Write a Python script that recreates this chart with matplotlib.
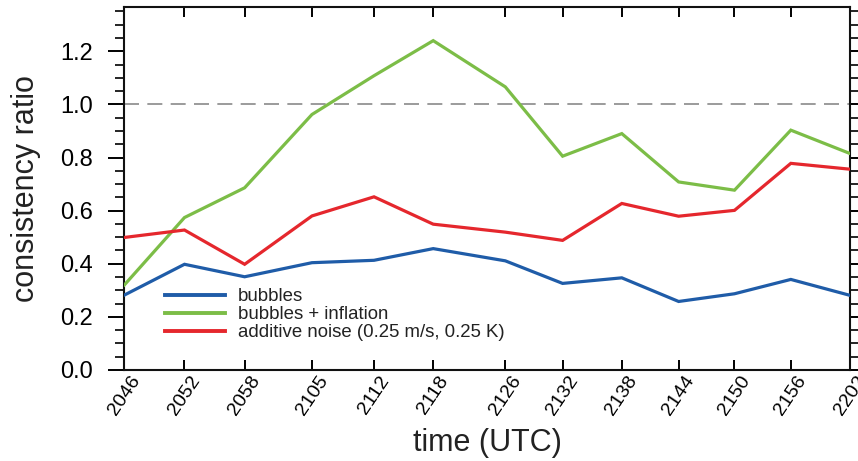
import matplotlib
matplotlib.use("Agg")
import matplotlib.pyplot as plt
from matplotlib.ticker import MultipleLocator

plt.rcParams['font.family'] = ['Liberation Sans', 'DejaVu Sans']

# Analysis times (minutes after 20:46 UTC) and their labels
minutes = [0.0, 6.3, 12.6, 19.65, 26.15, 32.35, 39.9, 45.9, 52.1, 58.05, 63.9, 69.8, 76.0]
time_labels = ["2046", "2052", "2058", "2105", "2112", "2118", "2126",
               "2132", "2138", "2144", "2150", "2156", "2202"]

bubbles = [0.282, 0.398, 0.351, 0.404, 0.413, 0.457, 0.411,
           0.326, 0.347, 0.258, 0.287, 0.341, 0.281]
bubbles_inflation = [0.320, 0.574, 0.686, 0.962, 1.108, 1.240, 1.066,
                     0.805, 0.890, 0.708, 0.677, 0.903, 0.815]
additive_noise = [0.499, 0.527, 0.398, 0.580, 0.652, 0.549, 0.519,
                  0.488, 0.627, 0.579, 0.601, 0.778, 0.756]

series_names = ["bubbles", "bubbles + inflation",
                "additive noise (0.25 m/s, 0.25 K)"]
series_colors = ["#1f5ca8", "#7cbd47", "#e5272d"]

fig = plt.figure(figsize=(8.58, 4.61), dpi=100)
ax = fig.add_axes([0.1449, 0.1974, 0.9907 - 0.1449, 0.985 - 0.1974])

ax.axhline(1.0, color="#8a8a8a", lw=1.2, dashes=(9, 5), zorder=1)

for vals, name, col in zip([bubbles, bubbles_inflation, additive_noise],
                           series_names, series_colors):
    ax.plot(minutes, vals, color=col, lw=2.3, label=name, zorder=3,
            solid_joinstyle="miter")

ax.set_xlim(minutes[0], minutes[-1])
ax.set_ylim(0.0, 1.367)

ax.set_xticks(minutes)
ax.set_xticklabels(time_labels, rotation=56, ha="center", va="top",
                   fontsize=14)
ax.yaxis.set_minor_locator(MultipleLocator(0.05))
ax.set_yticks([0.0, 0.2, 0.4, 0.6, 0.8, 1.0, 1.2])
ax.set_yticklabels(["0.0", "0.2", "0.4", "0.6", "0.8", "1.0", "1.2"])

ax.tick_params(axis="x", which="major", direction="in", top=True, bottom=True,
               length=7.2, width=1.4, pad=2, labelsize=14)
ax.tick_params(axis="y", which="major", direction="out", left=True, right=True,
               length=11.5, width=1.4, pad=11, labelsize=17)
ax.tick_params(axis="y", which="minor", direction="out", left=True, right=True,
               length=6.5, width=1.2)

for sp in ax.spines.values():
    sp.set_linewidth(1.5)
    sp.set_color("#111111")

ax.set_ylabel("consistency ratio", fontsize=22, va="center", color="#222222")
ax.yaxis.set_label_coords(-0.136, 0.5)
ax.set_xlabel("time (UTC)", fontsize=22, va="center", color="#222222")
ax.xaxis.set_label_coords(0.5, -0.201)

leg = ax.legend(loc="upper left", bbox_to_anchor=(0.0565, 0.225),
                frameon=False, fontsize=13.4, handlelength=3.2,
                handletextpad=0.7, labelspacing=0.05, borderpad=0,
                borderaxespad=0)
for line in leg.get_lines():
    line.set_linewidth(2.8)
for t in leg.get_texts():
    t.set_color("#222222")

fig.savefig("out.png", dpi=100)
